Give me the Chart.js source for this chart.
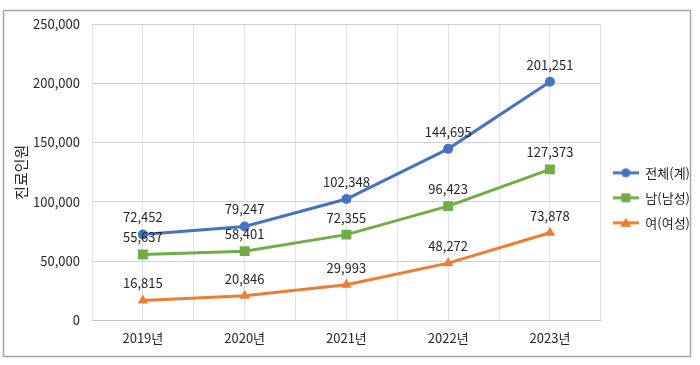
<!DOCTYPE html>
<html><head><meta charset="utf-8">
<script src="https://cdn.jsdelivr.net/npm/chart.js@4"></script>
<style>html,body{margin:0;padding:0;background:#fff}#wrap{width:700px;height:365px;position:relative}</style>
</head><body><div id="wrap"><canvas id="c" width="700" height="365"></canvas></div>
<script>
const categories = ['2019년','2020년','2021년','2022년','2023년'];
const totalValues = [72452, 79247, 102348, 144695, 201251];
const maleValues = [55637, 58401, 72355, 96423, 127373];
const femaleValues = [16815, 20846, 29993, 48272, 73878];
const seriesNames = ['전체(계)','남(남성)','여(여성)'];
const yTicks = [0, 50000, 100000, 150000, 200000, 250000];
const yTitle = '진료인원';

const FONT = "'Noto Sans CJK KR', 'Noto Sans', sans-serif";
const colors = ['#4472C4', '#70AD47', '#ED7D31'];
const styles = ['circle', 'rect', 'triangle'];
const radii = [5, 7, 6];

function legendIcon(color, style) {
  const cv = document.createElement('canvas');
  cv.width = 26; cv.height = 14;
  const ctx = cv.getContext('2d');
  ctx.strokeStyle = color; ctx.lineWidth = 3;
  ctx.beginPath(); ctx.moveTo(0, 7); ctx.lineTo(26, 7); ctx.stroke();
  ctx.fillStyle = color;
  ctx.beginPath();
  if (style === 'circle') { ctx.arc(13, 7, 4.5, 0, Math.PI * 2); }
  else if (style === 'rect') { ctx.rect(8.5, 2.5, 9, 9); }
  else { ctx.moveTo(13, 2); ctx.lineTo(18.5, 11); ctx.lineTo(7.5, 11); ctx.closePath(); }
  ctx.fill();
  return cv;
}

const toPts = arr => arr.map((v, i) => ({x: i, y: v}));
const allValues = [totalValues, maleValues, femaleValues];

const datasets = allValues.map((vals, k) => ({
  label: seriesNames[k],
  data: toPts(vals),
  borderColor: colors[k],
  backgroundColor: colors[k],
  borderWidth: 3,
  pointStyle: styles[k],
  pointRadius: radii[k],
  pointHoverRadius: radii[k],
  pointBorderWidth: 0,
  tension: 0,
  fill: false
}));

const framePlugin = {
  id: 'frame',
  beforeDraw(chart) {
    const ctx = chart.ctx;
    ctx.save();
    ctx.fillStyle = '#fff';
    ctx.fillRect(0, 0, chart.width, chart.height);
    ctx.strokeStyle = '#a6a6a6';
    ctx.lineWidth = 1.5;
    ctx.strokeRect(3.5, 10.5, 687, 346);
    ctx.restore();
  }
};

const labelPlugin = {
  id: 'valueLabels',
  afterDatasetsDraw(chart) {
    const ctx = chart.ctx;
    ctx.save();
    ctx.font = '13px ' + FONT;
    ctx.fillStyle = '#262626';
    ctx.textAlign = 'center';
    ctx.textBaseline = 'middle';
    chart.data.datasets.forEach((ds, k) => {
      const meta = chart.getDatasetMeta(k);
      meta.data.forEach((pt, i) => {
        ctx.fillText(allValues[k][i].toLocaleString('en-US'), pt.x, pt.y - 17);
      });
    });
    ctx.restore();
  }
};

new Chart(document.getElementById('c'), {
  type: 'line',
  data: { datasets },
  plugins: [framePlugin, labelPlugin],
  options: {
    responsive: false,
    animation: false,
    events: [],
    layout: { padding: { top: 24, left: 0, right: 0, bottom: 9 } },
    plugins: {
      tooltip: { enabled: false },
      legend: {
        position: 'right',
        title: { display: true, text: ' ', font: { family: FONT, size: 13 }, padding: 0 },
        labels: {
          usePointStyle: true,
          pointStyleWidth: 26,
          boxHeight: 14,
          padding: 12,
          color: '#262626',
          font: { family: FONT, size: 13 },
          generateLabels(chart) {
            return chart.data.datasets.map((ds, k) => ({
              text: ds.label,
              pointStyle: legendIcon(colors[k], styles[k]),
              fillStyle: colors[k],
              strokeStyle: colors[k],
              lineWidth: 0,
              hidden: false,
              datasetIndex: k,
              fontColor: '#262626'
            }));
          }
        }
      }
    },
    scales: {
      x: {
        type: 'linear',
        min: -0.5, max: 4.5,
        afterBuildTicks(scale) {
          const t = [];
          for (let v = -0.5; v <= 4.5001; v += 0.5) t.push({value: Math.round(v * 10) / 10});
          scale.ticks = t;
        },
        ticks: {
          autoSkip: false, maxRotation: 0, padding: 10,
          color: '#262626', font: { family: FONT, size: 13 },
          callback: v => Number.isInteger(v) ? categories[v] : ''
        },
        grid: { color: '#e3e3e3', lineWidth: 1, drawTicks: false },
        border: { color: '#bfbfbf', width: 1 }
      },
      y: {
        min: 0, max: 250000,
        afterBuildTicks(scale) { scale.ticks = yTicks.map(v => ({value: v})); },
        afterFit(scale) { scale.width = 92; },
        ticks: {
          padding: 12,
          color: '#262626', font: { family: FONT, size: 13 },
          callback: v => v.toLocaleString('en-US')
        },
        grid: { color: '#d0d0d0', lineWidth: 1, drawTicks: false },
        border: { color: '#e3e3e3', width: 1 },
        title: {
          display: true, text: yTitle, color: '#262626',
          font: { family: FONT, size: 15 },
          padding: { top: 12, bottom: 0 }
        }
      }
    }
  }
});
</script></body></html>
